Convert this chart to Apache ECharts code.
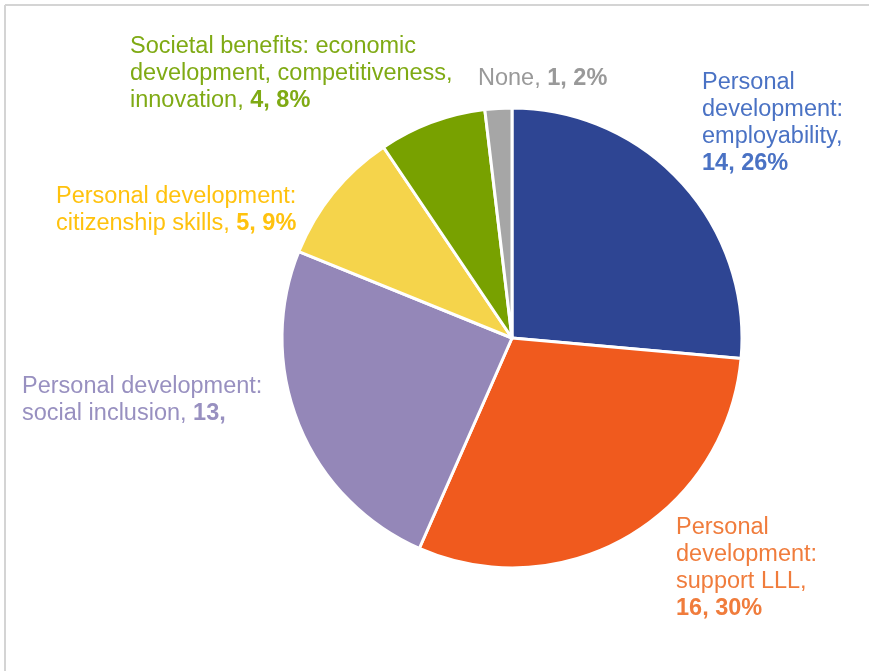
<!DOCTYPE html>
<html>
<head>
<meta charset="utf-8">
<script src="https://cdn.jsdelivr.net/npm/echarts@6/dist/echarts.min.js"></script>
<style>
  html, body { margin: 0; padding: 0; background: #fff; }
  #chart { width: 869px; height: 671px; }
</style>
</head>
<body>
<div id="chart"></div>
<script>
// slices, clockwise from 12 o'clock
const categories = [
  'Personal\ndevelopment:\nemployability,',
  'Personal\ndevelopment:\nsupport LLL,',
  'Personal development:\nsocial inclusion,',
  'Personal development:\ncitizenship skills,',
  'Societal benefits: economic\ndevelopment, competitiveness,\ninnovation,',
  'None,'
]
const values = [14, 16, 13, 5, 4, 1]
// the social inclusion label is cut off in the original after the count
const showPercent = [true, true, false, true, true, true]

const sliceColors = ['#2E4593', '#F05A1E', '#9487B8', '#F5D44B', '#78A100', '#A6A6A6']
const labelColors = ['#4A72C4', '#F07C3C', '#9890C0', '#FFC20E', '#7FAA14', '#999999']
// top-left corner of each label block
const labelPos = [[702, 69], [676, 514], [22, 373], [56, 183], [130, 33], [478, 65]]

const total = values.reduce((a, b) => a + b, 0)

const chart = echarts.init(document.getElementById('chart'))

const data = values.map((v, i) => {
  const pct = Math.round(v / total * 100)
  const bold = showPercent[i] ? v + ', ' + pct + '%' : v + ','
  const lines = categories[i].split('\n')
  const head = lines.slice(0, -1).map(l => '{n|' + l + '}').join('\n')
  const last = '{n|' + lines[lines.length - 1] + '}'
  let text
  if (i >= 2) {
    text = (head ? head + '\n' : '') + last + '{n| }{b|' + bold + '}'
  } else {
    text = head + '\n' + last + '\n{b|' + bold + '}'
  }
  return {
    value: v,
    name: categories[i],
    itemStyle: { color: sliceColors[i] },
    label: {
      formatter: text,
      rich: {
        n: { color: labelColors[i], fontSize: 23.5, fontFamily: 'Liberation Sans', lineHeight: 27 },
        b: { color: labelColors[i], fontSize: 23.5, fontFamily: 'Liberation Sans', fontWeight: 'bold', lineHeight: 27 }
      }
    }
  }
})

chart.setOption({
  animation: false,
  graphic: [
    { type: 'line', shape: { x1: 5, y1: 5, x2: 869, y2: 5 }, style: { stroke: '#d4d4d4', lineWidth: 2 } },
    { type: 'line', shape: { x1: 5, y1: 5, x2: 5, y2: 671 }, style: { stroke: '#d4d4d4', lineWidth: 2 } }
  ],
  series: [{
    type: 'pie',
    center: [512, 338],
    radius: 230,
    startAngle: 90,
    clockwise: true,
    avoidLabelOverlap: false,
    itemStyle: { borderColor: '#fff', borderWidth: 3 },
    label: { show: true, position: 'outside', overflow: 'none', width: 400 },
    labelLine: { show: false },
    labelLayout: function (params) {
      const p = labelPos[params.dataIndex]
      return { x: p[0], y: p[1], align: 'left', verticalAlign: 'top' }
    },
    emphasis: { disabled: true },
    data: data
  }]
})
</script>
</body>
</html>
